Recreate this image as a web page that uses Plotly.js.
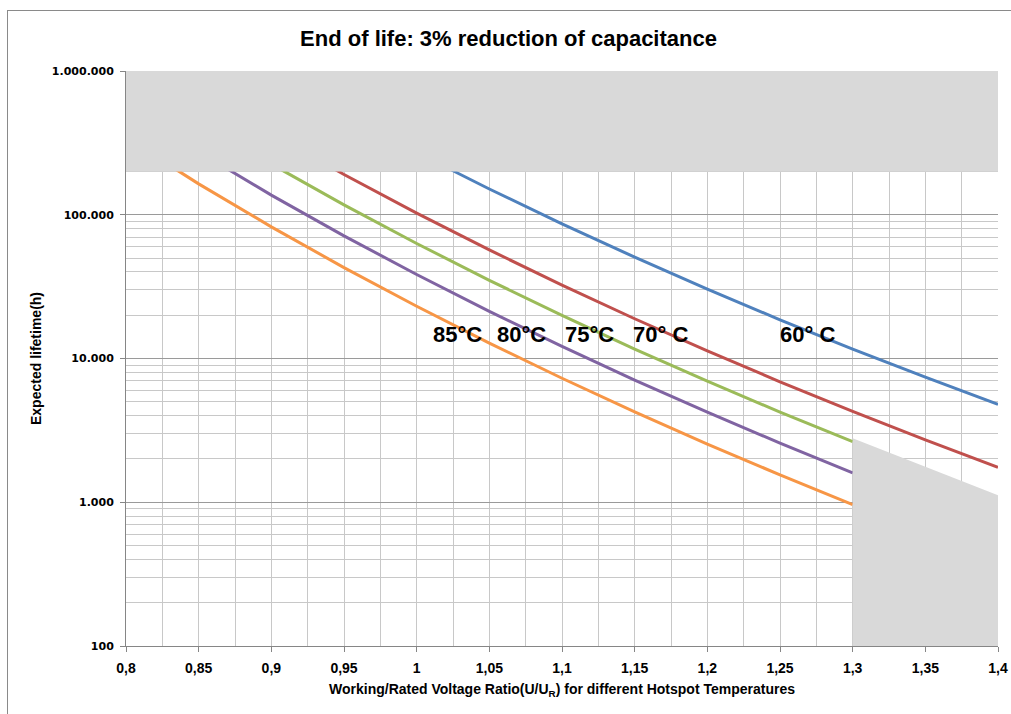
<!DOCTYPE html>
<html>
<head>
<meta charset="utf-8">
<script src="https://cdn.plot.ly/plotly-3.0.1.min.js"></script>
<style>
  html, body { margin: 0; padding: 0; background: #fff; }
  #chart { width: 1011px; height: 714px; position: absolute; left: 0; top: 0; }
  #frame { position: absolute; left: 7px; top: 10px; width: 1010px; height: 710px;
           border-top: 1px solid #8a8a8a; border-left: 1px solid #8a8a8a; pointer-events: none; }
</style>
</head>
<body>
<div id="chart"></div>
<div id="frame"></div>
<script>
// Voltage ratio (U/UR) sample points
const ratioLow = [0.8, 0.85, 0.9, 0.95, 1.0, 1.05, 1.1, 1.15, 1.2, 1.25, 1.3];
const ratio70 = [0.9, 0.95, 1.0, 1.05, 1.1, 1.15, 1.2, 1.25, 1.3, 1.35, 1.4];
const ratio60 = [1.0, 1.05, 1.1, 1.15, 1.2, 1.25, 1.3, 1.35, 1.4];

// Expected lifetime (h) per hotspot temperature
const life85 = [343000, 164000, 82400, 42900, 23100, 12800, 7290, 4260, 2540, 1550, 964];
const life80 = [570000, 274000, 137000, 71300, 38400, 21300, 12130, 7080, 4230, 2580, 1600];
const life75 = [938000, 450000, 225000, 117200, 63100, 35000, 19950, 11640, 6950, 4240, 2640];
const life70 = [366000, 190500, 102600, 56900, 32400, 18900, 11300, 6890, 4290, 2720, 1750];
const life60 = [271000, 151000, 86500, 50700, 30400, 18600, 11640, 7410, 4790];

// Grey excluded zones
const zoneTopX = [0.8, 1.4, 1.4, 0.8];
const zoneTopY = [200000, 200000, 1000000, 1000000];
const zoneLowX = [1.3, 1.3, 1.4, 1.4];
const zoneLowY = [100, 2790, 1120, 100];

// Curve labels
const labelText = ["85°C", "80°C", "75°C", "70° C", "60° C"];
const labelX = [1.028, 1.072, 1.119, 1.168, 1.269];
const labelLifetime = 14700;

// Tick labels
const xTickVals = [0.8, 0.85, 0.9, 0.95, 1.0, 1.05, 1.1, 1.15, 1.2, 1.25, 1.3, 1.35, 1.4];
const xTickText = ["0,8", "0,85", "0,9", "0,95", "1", "1,05", "1,1", "1,15", "1,2", "1,25", "1,3", "1,35", "1,4"];
const yTickVals = [100, 1000, 10000, 100000, 1000000];
const yTickText = ["100", "1.000", "10.000", "100.000", "1.000.000"];

const colors = { c85: "#F79646", c80: "#8064A2", c75: "#9BBB59", c70: "#C0504D", c60: "#4F81BD", grey: "#D9D9D9" };
const lw = 3;

const traces = [
  { x: ratioLow, y: life85, mode: "lines", line: { color: colors.c85, width: lw }, name: "85°C" },
  { x: ratioLow, y: life80, mode: "lines", line: { color: colors.c80, width: lw }, name: "80°C" },
  { x: ratioLow, y: life75, mode: "lines", line: { color: colors.c75, width: lw }, name: "75°C" },
  { x: ratio70, y: life70, mode: "lines", line: { color: colors.c70, width: lw }, name: "70°C" },
  { x: ratio60, y: life60, mode: "lines", line: { color: colors.c60, width: lw }, name: "60°C" },
  { x: zoneTopX, y: zoneTopY, mode: "lines", fill: "toself", fillcolor: colors.grey, line: { width: 0, color: colors.grey }, name: "zoneTop" },
  { x: zoneLowX, y: zoneLowY, mode: "lines", fill: "toself", fillcolor: colors.grey, line: { width: 0, color: colors.grey }, name: "zoneLow" }
];

const narrow = "Liberation Sans Narrow, Arial Narrow, Liberation Sans, sans-serif";

const annotations = labelText.map((t, i) => ({
  x: labelX[i], y: Math.log10(labelLifetime), xref: "x", yref: "y",
  text: "<b>" + t + "</b>", showarrow: false,
  font: { family: narrow, size: 22, color: "#000" }
}));

const layout = {
  width: 1011, height: 714,
  margin: { l: 126, r: 13, t: 71, b: 68, autoexpand: false },
  paper_bgcolor: "#fff", plot_bgcolor: "#fff",
  showlegend: false,
  hovermode: false,
  title: {
    text: "<b>End of life: 3% reduction of capacitance</b>",
    font: { family: narrow, size: 22, color: "#000" },
    x: 0.503, xref: "container", xanchor: "center",
    y: 0.947, yref: "container", yanchor: "middle"
  },
  xaxis: {
    range: [0.8, 1.4],
    tickmode: "array", tickvals: xTickVals, ticktext: xTickText,
    showgrid: true, gridcolor: "#c8c8c8", gridwidth: 1,
    minor: { dtick: 0.025, tick0: 0.8, showgrid: true, gridcolor: "#c8c8c8", gridwidth: 1, ticks: "" },
    showline: true, linecolor: "#868686", linewidth: 1,
    ticks: "outside", ticklen: 5, tickcolor: "#868686",
    zeroline: false,
    tickfont: { family: narrow, size: 14, color: "#000", weight: "bold" },
    ticklabelstandoff: 4,
    title: {
      text: "<b>Working/Rated Voltage Ratio(U/U<sub>R</sub>) for different Hotspot Temperatures</b>",
      font: { family: narrow, size: 14, color: "#000" },
      standoff: 9
    },
    automargin: false
  },
  yaxis: {
    type: "log", range: [2, 6],
    tickmode: "array", tickvals: yTickVals, ticktext: yTickText,
    showgrid: true, gridcolor: "#9a9a9a", gridwidth: 1,
    minor: { dtick: "D1", showgrid: true, gridcolor: "#c8c8c8", gridwidth: 1, ticks: "" },
    showline: true, linecolor: "#868686", linewidth: 1,
    ticks: "outside", ticklen: 5, tickcolor: "#868686",
    zeroline: false,
    tickfont: { family: "DejaVu Sans, Verdana, sans-serif", size: 11, color: "#000", weight: "bold" },
    ticklabelstandoff: 4,
    title: {
      text: "<b>Expected lifetime(h)</b>",
      font: { family: narrow, size: 14, color: "#000" },
      standoff: 6
    },
    automargin: true
  },
  annotations: annotations
};

Plotly.newPlot("chart", traces, layout, { staticPlot: true, displayModeBar: false });
</script>
</body>
</html>
